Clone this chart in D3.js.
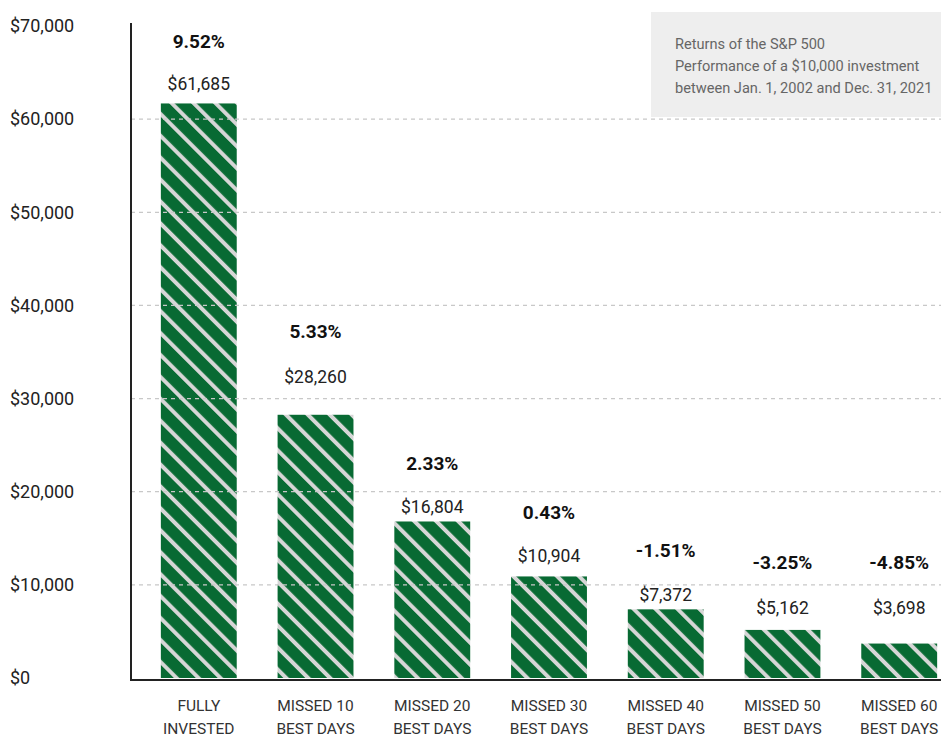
<!DOCTYPE html>
<html>
<head>
<meta charset="utf-8">
<script src="https://cdn.jsdelivr.net/npm/d3@7"></script>
<style>
  body { margin: 0; background: #fff; }
  svg { display: block; font-family: Roboto, "Noto Sans", sans-serif; }
</style>
</head>
<body>
<div id="chart"></div>
<script>
const categories = [
    ["FULLY", "INVESTED"],
    ["MISSED 10", "BEST DAYS"],
    ["MISSED 20", "BEST DAYS"],
    ["MISSED 30", "BEST DAYS"],
    ["MISSED 40", "BEST DAYS"],
    ["MISSED 50", "BEST DAYS"],
    ["MISSED 60", "BEST DAYS"]
];
const values = [61685, 28260, 16804, 10904, 7372, 5162, 3698];
const returns = ["9.52%", "5.33%", "2.33%", "0.43%", "-1.51%", "-3.25%", "-4.85%"];
const yTicks = [0, 10000, 20000, 30000, 40000, 50000, 60000, 70000];
const noteLines = [
    "Returns of the S&P 500",
    "Performance of a $10,000 investment",
    "between Jan. 1, 2002 and Dec. 31, 2021"
];

// hand placement of the labels above each bar (px, + moves down)
const valueNudge = [2, -17, 7, 1, 7, -1, -15];
const returnNudge = [2, -20, 6, 0, 5, -4, -18];

const width = 941;
const height = 736;
const green = "#086a33";

const svg = d3.select("#chart")
    .append("svg")
    .attr("width", width)
    .attr("height", height);

// diagonal hatch fill for the bars
const pattern = svg.append("defs").append("pattern")
    .attr("id", "hatch")
    .attr("patternUnits", "userSpaceOnUse")
    .attr("width", 15.5)
    .attr("height", 15.5)
    .attr("patternTransform", "rotate(-45)");
pattern.append("rect").attr("width", 15.5).attr("height", 15.5).attr("fill", green);
pattern.append("rect").attr("x", 0).attr("width", 4).attr("height", 15.5).attr("fill", "#d6d6d6");

const x = d3.scaleBand()
    .domain(d3.range(categories.length))
    .range([120, 978])
    .padding(0.35);

const y = d3.scaleLinear()
    .domain([0, 70000])
    .range([678, 26]);

// note box
svg.append("rect")
    .attr("x", 651)
    .attr("y", 12)
    .attr("width", width - 651)
    .attr("height", 105)
    .attr("fill", "#eeeeee");

svg.append("g")
    .selectAll("text")
    .data(noteLines)
    .join("text")
    .attr("x", 675)
    .attr("y", (d, i) => 49 + i * 22)
    .attr("fill", "#666")
    .style("font-size", "14.6px")
    .text(d => d);

// bars
svg.append("g")
    .selectAll("rect")
    .data(values)
    .join("rect")
    .attr("x", (d, i) => x(i))
    .attr("y", d => y(d))
    .attr("width", x.bandwidth())
    .attr("height", d => y(0) - y(d))
    .attr("fill", "url(#hatch)");

// dashed gridlines sit on top of the bars
svg.append("g")
    .selectAll("line")
    .data(yTicks.filter(t => t > 0 && t < 70000))
    .join("line")
    .attr("x1", 131)
    .attr("x2", width)
    .attr("y1", d => y(d))
    .attr("y2", d => y(d))
    .attr("stroke", "#c8c8c8")
    .attr("stroke-width", 1.2)
    .attr("stroke-dasharray", "4,4");

// y axis labels
const yAxis = svg.append("g")
    .attr("transform", "translate(131,0)")
    .call(d3.axisLeft(y).tickValues(yTicks).tickSize(0).tickFormat(d => "$" + d3.format(",")(d)));
yAxis.select(".domain").remove();
yAxis.selectAll("text")
    .attr("x", -121)
    .attr("text-anchor", "start")
    .attr("fill", "#222")
    .style("font-size", "18px")
    .style("font-family", "Roboto, sans-serif");

// axis lines
svg.append("line")
    .attr("x1", 131).attr("x2", 131)
    .attr("y1", 23).attr("y2", 681)
    .attr("stroke", "#222").attr("stroke-width", 2);
svg.append("line")
    .attr("x1", 130).attr("x2", width)
    .attr("y1", 680).attr("y2", 680)
    .attr("stroke", "#222").attr("stroke-width", 2);

// value and return labels
const labels = svg.append("g").attr("text-anchor", "middle");
labels.selectAll(".val")
    .data(values)
    .join("text")
    .attr("class", "val")
    .attr("x", (d, i) => x(i) + x.bandwidth() / 2)
    .attr("y", (d, i) => y(d) - 15 + valueNudge[i])
    .attr("fill", "#222")
    .style("font-size", "17.5px")
    .text(d => "$" + d3.format(",")(d));
labels.selectAll(".ret")
    .data(values)
    .join("text")
    .attr("class", "ret")
    .attr("x", (d, i) => x(i) + x.bandwidth() / 2)
    .attr("y", (d, i) => y(d) - 57 + returnNudge[i])
    .attr("fill", "#111")
    .style("font-size", "19px")
    .style("font-weight", "bold")
    .text((d, i) => returns[i]);

// category labels
svg.append("g")
    .attr("text-anchor", "middle")
    .selectAll("text")
    .data(categories)
    .join("text")
    .attr("x", (d, i) => x(i) + x.bandwidth() / 2)
    .attr("y", 711)
    .attr("fill", "#333")
    .style("font-size", "15.5px")
    .call(t => t.append("tspan").text(d => d[0]))
    .call(t => t.append("tspan")
        .attr("x", (d, i) => x(i) + x.bandwidth() / 2)
        .attr("dy", 23)
        .text(d => d[1]));
</script>
</body>
</html>
